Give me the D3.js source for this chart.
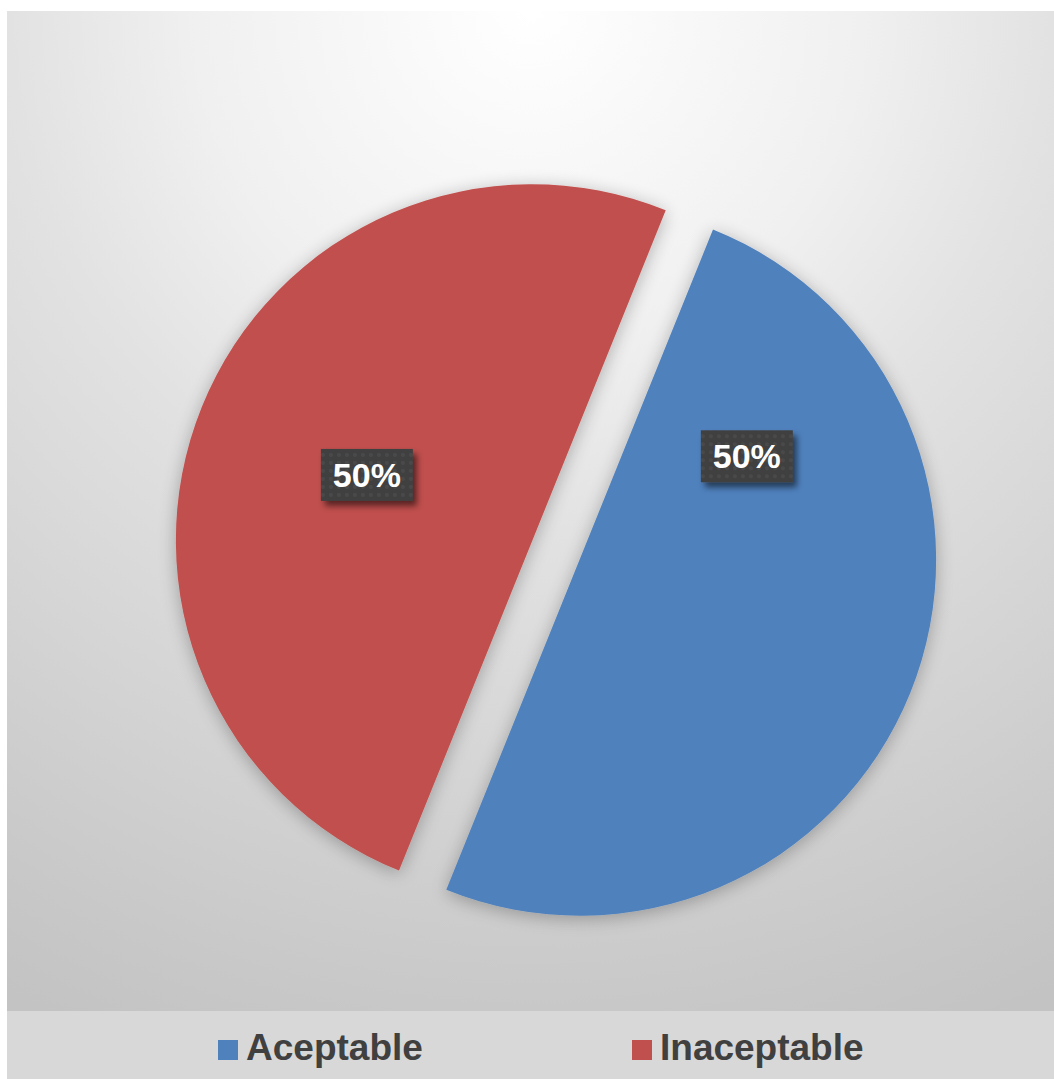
<!DOCTYPE html>
<html>
<head>
<meta charset="utf-8">
<script src="https://cdn.jsdelivr.net/npm/d3@7"></script>
<style>
  html, body { margin: 0; padding: 0; background: #ffffff; }
  svg { display: block; }
</style>
</head>
<body>
<script>
// Share of results by category
const categories = ["Aceptable", "Inaceptable"];
const values = [50, 50];
const labels = ["50%", "50%"];
const colors = ["#4f81bd", "#c0504d"];

const W = 1054, H = 1079;
const frame = { x: 7, y: 11, w: W - 7, h: H - 11 };
const legendTop = 1011;

const svg = d3.select("body").append("svg")
  .attr("width", W).attr("height", H);

const defs = svg.append("defs");

// Chart area fill: radial fade from the top centre
const bg = defs.append("radialGradient")
  .attr("id", "bgGrad")
  .attr("gradientUnits", "userSpaceOnUse")
  .attr("cx", 530).attr("cy", 11).attr("r", 1110);
[[0, "#ffffff"], [0.3, "#f0f0f0"], [0.47, "#e2e2e2"], [0.9, "#c8c8c8"], [1, "#c3c3c3"]]
  .forEach(([o, c]) => bg.append("stop").attr("offset", o).attr("stop-color", c));

// Soft shadow behind slices
const sh = defs.append("filter").attr("id", "sliceShadow")
  .attr("x", "-20%").attr("y", "-20%").attr("width", "140%").attr("height", "140%");
sh.append("feGaussianBlur").attr("in", "SourceAlpha").attr("stdDeviation", 9).attr("result", "b");
sh.append("feOffset").attr("in", "b").attr("dx", 0).attr("dy", 3).attr("result", "o");
sh.append("feComponentTransfer").attr("in", "o").attr("result", "s")
  .append("feFuncA").attr("type", "linear").attr("slope", 0.28);
const shm = sh.append("feMerge");
shm.append("feMergeNode").attr("in", "s");
shm.append("feMergeNode").attr("in", "SourceGraphic");

// Shadow for data label boxes
const lf = defs.append("filter").attr("id", "labelShadow")
  .attr("x", "-30%").attr("y", "-30%").attr("width", "170%").attr("height", "170%");
lf.append("feGaussianBlur").attr("in", "SourceAlpha").attr("stdDeviation", 3).attr("result", "b");
lf.append("feOffset").attr("in", "b").attr("dx", 4).attr("dy", 5).attr("result", "o");
lf.append("feComponentTransfer").attr("in", "o").attr("result", "s")
  .append("feFuncA").attr("type", "linear").attr("slope", 0.55);
const lfm = lf.append("feMerge");
lfm.append("feMergeNode").attr("in", "s");
lfm.append("feMergeNode").attr("in", "SourceGraphic");

// Dotted texture for label boxes
const pat = defs.append("pattern").attr("id", "dots")
  .attr("patternUnits", "userSpaceOnUse").attr("width", 8).attr("height", 8);
pat.append("rect").attr("width", 8).attr("height", 8).attr("fill", "#3f3f3f");
pat.append("circle").attr("cx", 4).attr("cy", 4).attr("r", 2).attr("fill", "#4a4a4a");

// Backgrounds
svg.append("rect")
  .attr("x", frame.x).attr("y", frame.y).attr("width", frame.w).attr("height", legendTop - frame.y)
  .attr("fill", "url(#bgGrad)");
svg.append("rect")
  .attr("x", frame.x).attr("y", legendTop).attr("width", frame.w).attr("height", H - legendTop)
  .attr("fill", "#d8d8d8");

// Pie
const cx = 556, cy = 550, R = 356, explode = 25.5;
const deg = Math.PI / 180;
const pie = d3.pie().sort(null).value(d => d)
  .startAngle(22 * deg).endAngle(382 * deg);
const arcs = pie(values);
const arc = d3.arc().innerRadius(0).outerRadius(R);

// Label placement inside each slice: angle (deg) and fraction of radius
const labelPos = [{ a: 58.3, f: 0.552 }, { a: 291.6, f: 0.5 }];

const slices = svg.append("g").attr("filter", "url(#sliceShadow)");
arcs.forEach((d, i) => {
  const mid = (d.startAngle + d.endAngle) / 2;
  const ox = cx + explode * Math.sin(mid);
  const oy = cy - explode * Math.cos(mid);
  slices.append("path")
    .attr("transform", `translate(${ox},${oy})`)
    .attr("d", arc(d))
    .attr("fill", colors[i]);
  d.ox = ox; d.oy = oy;
});

const lblW = 92, lblH = 52;
arcs.forEach((d, i) => {
  const p = labelPos[i];
  const lx = d.ox + p.f * R * Math.sin(p.a * deg);
  const ly = d.oy - p.f * R * Math.cos(p.a * deg);
  const g = svg.append("g").attr("transform", `translate(${lx},${ly})`);
  g.append("rect")
    .attr("x", -lblW / 2).attr("y", -lblH / 2)
    .attr("width", lblW).attr("height", lblH)
    .attr("fill", "url(#dots)")
    .attr("filter", "url(#labelShadow)");
  g.append("text")
    .attr("x", 0).attr("y", 12)
    .attr("text-anchor", "middle")
    .attr("font-family", "'Liberation Sans', Arial, sans-serif")
    .attr("font-weight", "bold")
    .attr("font-size", 34)
    .attr("fill", "#ffffff")
    .text(labels[i]);
});

// Legend
const legendItems = [{ x: 218 }, { x: 632 }];
const lg = svg.append("g");
categories.forEach((c, i) => {
  const it = legendItems[i];
  lg.append("rect")
    .attr("x", it.x).attr("y", 1040).attr("width", 20).attr("height", 20)
    .attr("fill", colors[i]);
  lg.append("text")
    .attr("x", it.x + 28).attr("y", 1059.5)
    .attr("font-family", "'Liberation Sans', Arial, sans-serif")
    .attr("font-weight", "bold")
    .attr("font-size", 37)
    .attr("fill", "#404040")
    .text(c);
});
</script>
</body>
</html>
